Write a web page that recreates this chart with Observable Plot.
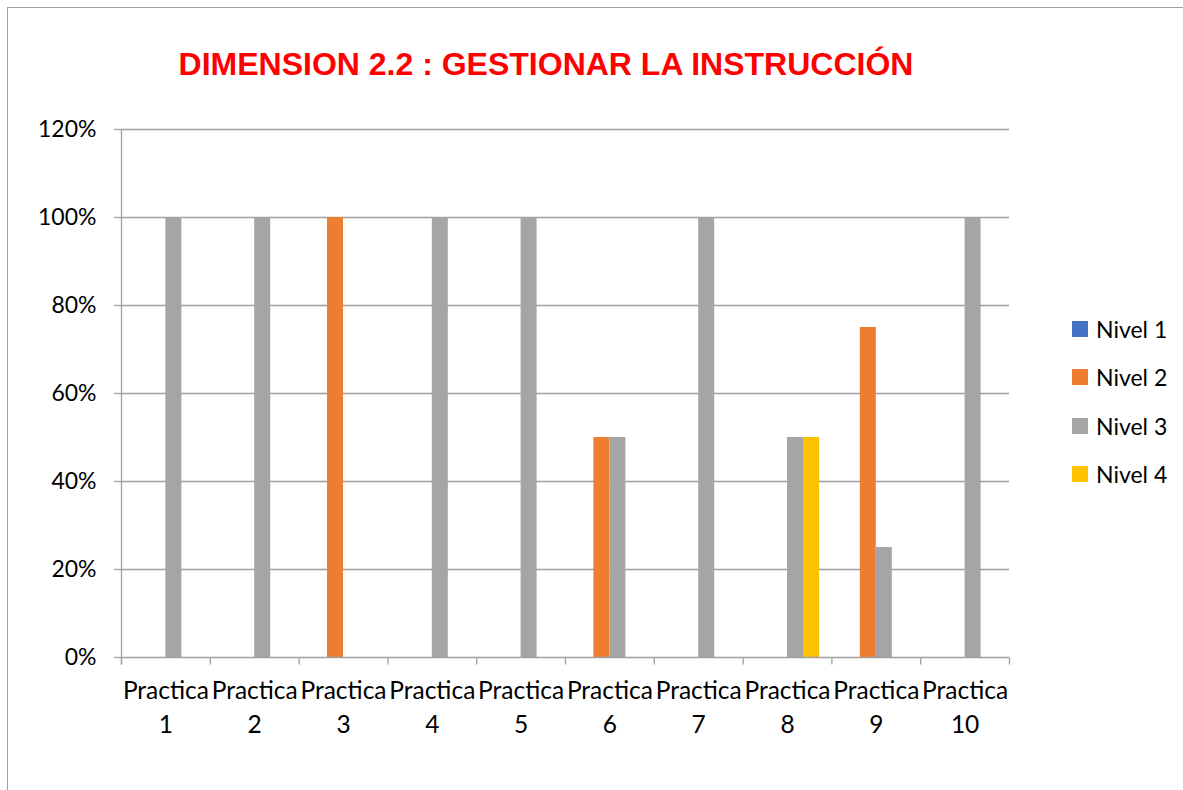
<!DOCTYPE html>
<html>
<head>
<meta charset="utf-8">
<script src="https://cdn.jsdelivr.net/npm/d3@7"></script>
<script src="https://cdn.jsdelivr.net/npm/@observablehq/plot@0.6"></script>
<style>
  body { margin: 0; background: #fff; }
  #wrap { position: relative; width: 1183px; height: 790px; overflow: hidden; background: #fff; }
  #border { position: absolute; left: 7px; top: 7px; width: 1300px; height: 900px;
            border-left: 1.5px solid #a0a0a0; border-top: 1.5px solid #a0a0a0; }
  #title { position: absolute; left: 0; top: 48px; width: 1092px; text-align: center;
           font-family: "Liberation Sans", Arial, sans-serif; font-weight: bold; font-size: 32px;
           line-height: 32px; color: #ff0000; white-space: nowrap; }
  #chart { position: absolute; left: 0; top: 0; }
  #legend { position: absolute; left: 1072px; top: 305px; font-family: Lato, sans-serif; font-size: 23px; color: #000; }
  .row { display: flex; align-items: center; height: 48.3px; }
  .sw { width: 16px; height: 16px; margin-right: 8px; }
</style>
</head>
<body>
<div id="wrap">
  <div id="border"></div>
  <div id="chart"></div>
  <div id="title">DIMENSION 2.2 : GESTIONAR LA INSTRUCCIÓN</div>
  <div id="legend"></div>
</div>
<script>
const practicas = ["Practica 1","Practica 2","Practica 3","Practica 4","Practica 5","Practica 6","Practica 7","Practica 8","Practica 9","Practica 10"];
const niveles = ["Nivel 1","Nivel 2","Nivel 3","Nivel 4"];
const nivel1 = [0, 0, 0, 0, 0, 0, 0, 0, 0, 0];
const nivel2 = [0, 0, 1, 0, 0, 0.5, 0, 0, 0.75, 0];
const nivel3 = [1, 1, 0, 1, 1, 0.5, 1, 0.5, 0.25, 1];
const nivel4 = [0, 0, 0, 0, 0, 0, 0, 0.5, 0, 0];
const colores = ["#4472C4", "#ED7D31", "#A5A5A5", "#FFC000"];
const yTicks = [0, 0.2, 0.4, 0.6, 0.8, 1.0, 1.2];

const series = [nivel1, nivel2, nivel3, nivel4];
const data = practicas.flatMap((p, i) => series.map((s, j) => ({practica: p, nivel: niveles[j], valor: s[i]})));

const gridColor = "#a0a0a0";
const pct = d => Math.round(d * 100) + "%";

const chart = Plot.plot({
  width: 1183, height: 790,
  marginLeft: 121, marginRight: 174, marginTop: 129, marginBottom: 133,
  style: {fontFamily: "Lato, sans-serif", fontSize: "22px", color: "#000", background: "transparent"},
  fx: {domain: practicas, padding: 0, round: false, label: null},
  x: {domain: niveles, paddingInner: 0, paddingOuter: 0.775, round: false, axis: null},
  y: {domain: [0, 1.2], label: null},
  color: {domain: niveles, range: colores},
  marks: [
    Plot.ruleY(yTicks.slice(1), {stroke: gridColor, strokeWidth: 1.3}),
    Plot.barY(data, {fx: "practica", x: "nivel", y: "valor", fill: "nivel"}),
    Plot.ruleY([0], {stroke: gridColor, strokeWidth: 1.3}),
    Plot.axisY({ticks: yTicks, tickSize: 7, tickPadding: 18, stroke: gridColor, strokeWidth: 1.3,
                tickFormat: pct, label: null, fontSize: 23}),
    Plot.axisFx({anchor: "bottom", tickSize: 0, tickPadding: 17, lineHeight: 1.4, fontSize: 24.5, label: null,
                 tickFormat: d => d.replace(" ", "\n")})
  ]
});
document.getElementById("chart").appendChild(chart);

// Y axis line and category-boundary ticks, from the chart's own scales
const fx = chart.scale("fx"), y = chart.scale("y");
const svg = d3.select(chart);
const y0 = y.apply(0), yTop = y.apply(1.2);
const bounds = practicas.map(p => fx.apply(p)).concat([fx.apply(practicas[practicas.length - 1]) + fx.bandwidth]);
const g = svg.append("g").attr("stroke", gridColor).attr("stroke-width", 1.3);
g.append("line").attr("x1", bounds[0] + 0.5).attr("x2", bounds[0] + 0.5).attr("y1", yTop).attr("y2", y0 + 7.5);
g.selectAll("line.b").data(bounds).join("line").attr("class", "b")
  .attr("x1", d => d + 0.5).attr("x2", d => d + 0.5).attr("y1", y0 + 0.5).attr("y2", y0 + 7.5);

// Legend
const color = chart.scale("color");
const legend = d3.select("#legend");
niveles.forEach(n => {
  const r = legend.append("div").attr("class", "row");
  r.append("div").attr("class", "sw").style("background", color.apply(n));
  r.append("span").text(n);
});
</script>
</body>
</html>
